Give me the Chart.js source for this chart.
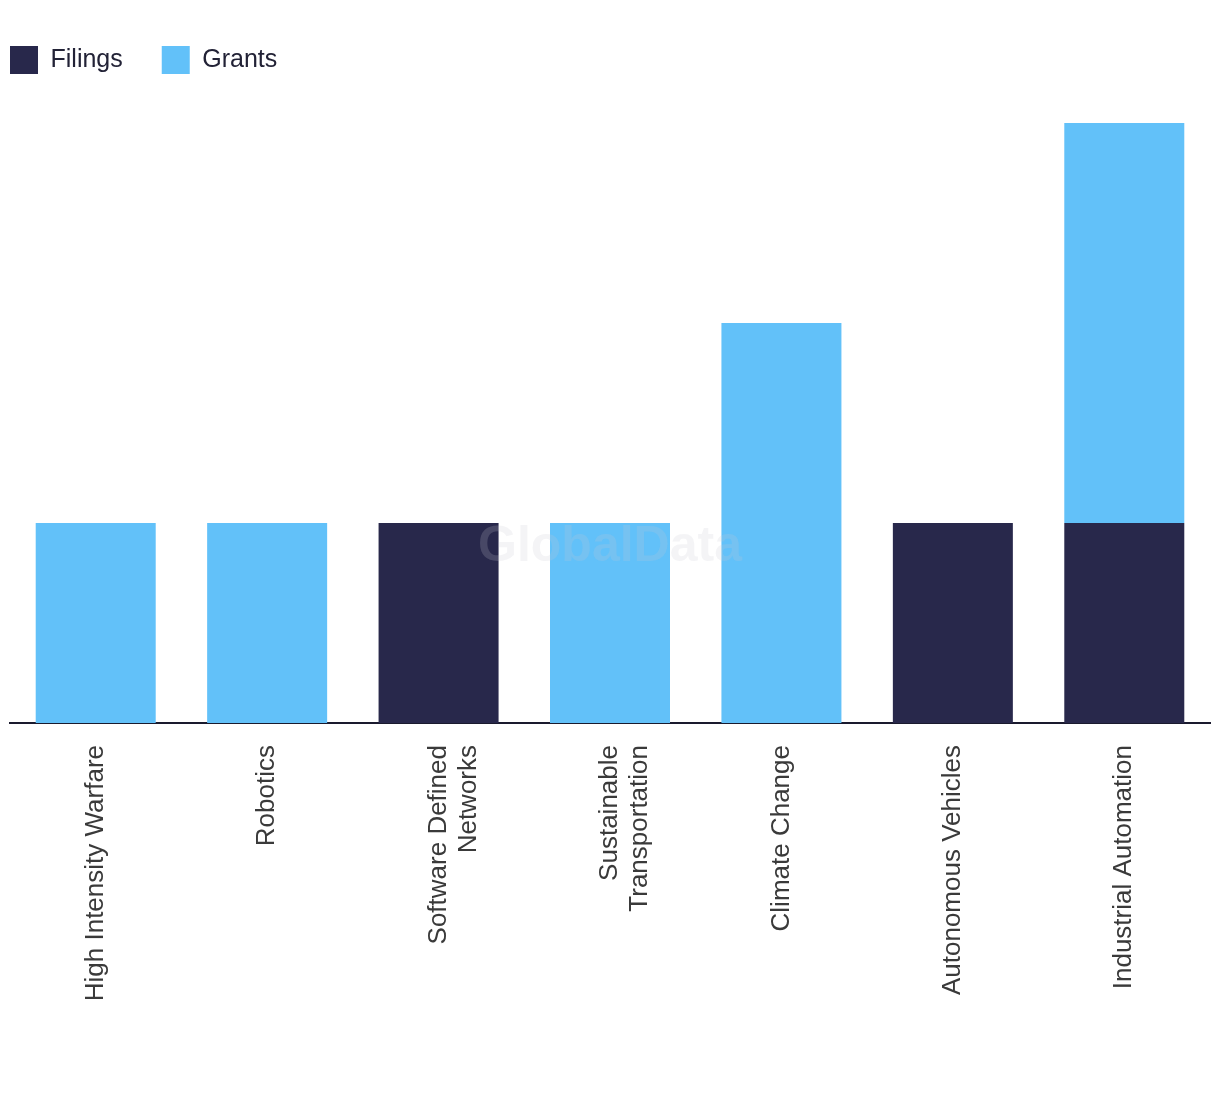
<!DOCTYPE html>
<html>
<head>
<meta charset="utf-8">
<script src="https://cdn.jsdelivr.net/npm/chart.js@4"></script>
<style>
html,body{margin:0;padding:0;background:#fff;}
#wrap{width:1220px;height:1094px;position:relative;}
</style>
</head>
<body>
<div id="wrap"><canvas id="c" width="1220" height="1094"></canvas></div>
<script>
const categories = [
  "High Intensity Warfare",
  "Robotics",
  ["Software Defined", "Networks"],
  ["Sustainable", "Transportation"],
  "Climate Change",
  "Autonomous Vehicles",
  "Industrial Automation"
];
const filings = [0, 0, 1, 0, 0, 1, 1];
const grants  = [1, 1, 0, 1, 2, 0, 2];
const yMax = 3;

const LEGEND_PAD = 39;

const watermark = {
  id: 'watermark',
  afterDatasetsDraw(chart) {
    const ctx = chart.ctx;
    ctx.save();
    ctx.font = 'bold 50px "Liberation Sans", Arial, sans-serif';
    ctx.fillStyle = 'rgba(200,200,212,0.2)';
    ctx.textAlign = 'center';
    ctx.textBaseline = 'middle';
    ctx.fillText('GlobalData', chart.width / 2, chart.height / 2);
    ctx.restore();
  }
};

const legendTweak = {
  id: 'legendTweak',
  beforeInit(chart) {
    const lg = chart.legend;
    if (lg) {
      const f = lg.fit.bind(lg);
      lg.fit = function () { f(); this.height += 39; };
    }
  },
  afterLayout(chart) {
    if (chart.legend) chart.legend.left -= LEGEND_PAD;
  }
};

new Chart(document.getElementById('c'), {
  type: 'bar',
  data: {
    labels: categories,
    datasets: [
      { label: 'Filings', data: filings, backgroundColor: '#28284b', barPercentage: 0.7, categoryPercentage: 1 },
      { label: 'Grants', data: grants, backgroundColor: '#62c1f9', barPercentage: 0.7, categoryPercentage: 1 }
    ]
  },
  options: {
    responsive: false,
    animation: false,
    devicePixelRatio: 1,
    layout: { padding: { left: 10, right: 10, top: 7, bottom: 0 } },
    plugins: {
      legend: {
        position: 'top',
        align: 'start',
        labels: {
          boxWidth: 28,
          boxHeight: 28,
          padding: LEGEND_PAD,
          color: '#222236',
          font: { family: '"Liberation Sans", Arial, sans-serif', size: 25 }
        }
      },
      tooltip: { enabled: false }
    },
    scales: {
      x: {
        stacked: true,
        grid: { display: false, drawTicks: false },
        border: { display: true, color: '#1a1a2e', width: 2 },
        ticks: {
          minRotation: 90,
          maxRotation: 90,
          padding: 22,
          color: '#3a3a3a',
          font: { family: '"Liberation Sans", Arial, sans-serif', size: 26, lineHeight: 1.15 }
        },
        afterFit(scale) { scale.height = 371; }
      },
      y: {
        stacked: true,
        display: false,
        min: 0,
        max: yMax
      }
    }
  },
  plugins: [legendTweak, watermark]
});
</script>
</body>
</html>
